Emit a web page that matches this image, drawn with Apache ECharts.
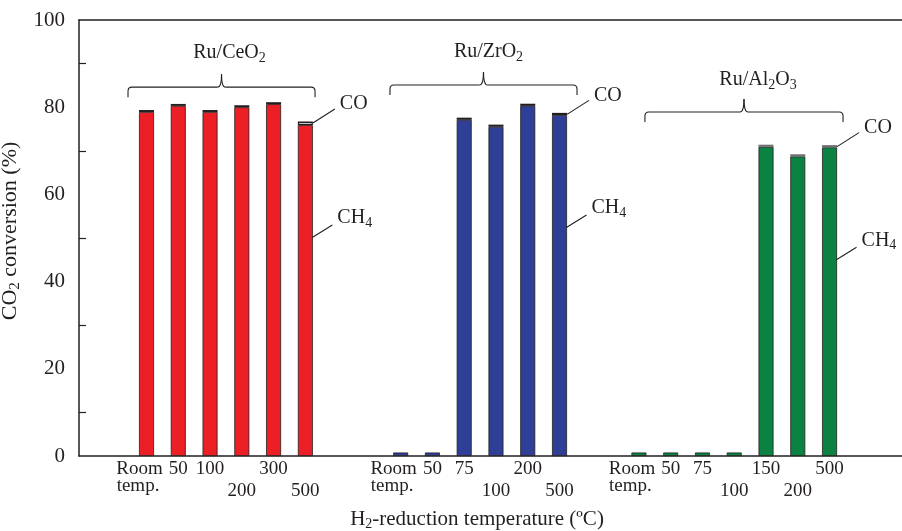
<!DOCTYPE html>
<html>
<head>
<meta charset="utf-8">
<script src="https://cdn.jsdelivr.net/npm/echarts@6/dist/echarts.min.js"></script>
<style>
html,body{margin:0;padding:0;background:#fff;}
#chart{width:902px;height:531px;}
</style>
</head>
<body>
<div id="chart"></div>
<script>
// values (CO2 conversion, %)
var ceo2Temps = ['Room temp.', '50', '100', '200', '300', '500'];
var ceo2CH4 = [78.9, 80.3, 78.9, 80.0, 80.7, 75.9];
var ceo2CO = [0.45, 0.45, 0.45, 0.45, 0.45, 0.8];

var zro2Temps = ['Room temp.', '50', '75', '100', '200', '500'];
var zro2CH4 = [0.8, 0.8, 77.1, 75.5, 80.3, 78.2];
var zro2CO = [0, 0, 0.5, 0.5, 0.5, 0.5];

var al2o3Temps = ['Room temp.', '50', '75', '100', '150', '200', '500'];
var al2o3CH4 = [0.8, 0.8, 0.8, 0.8, 70.9, 68.7, 70.8];
var al2o3CO = [0, 0, 0, 0, 0.5, 0.5, 0.5];

var FONT = 'Liberation Serif';
var INK = '#231f20';
var SLOTS = 104, STEP = 4;   // fine category slots, one bar every STEP slots
var lowRow = [3, 5];         // labels pushed to the second row

var groups = [
  {label: '{m|Ru/CeO}{s|2}', temps: ceo2Temps, ch4: ceo2CH4, co: ceo2CO, start: 8,
   fill: '#ec1f27', coEdge: INK, brace: {l: -18.5, r: 9.7, level: 84.6, dx: 8, dy: -34}},
  {label: '{m|Ru/ZrO}{s|2}', temps: zro2Temps, ch4: zro2CH4, co: zro2CO, start: 40,
   fill: '#2f3e97', coEdge: INK, brace: {l: -10.7, r: 17.5, level: 85.1, dx: 5, dy: -33}},
  {label: '{m|Ru/Al}{s|2}{m|O}{s|3}', temps: al2o3Temps, ch4: al2o3CH4, co: al2o3CO, start: 70,
   fill: '#0b8242', coEdge: '#6d6e71', brace: {l: 6, r: 13.5, level: 78.9, dx: 14, dy: -32}}
];

var cats = [], rows = [], ch4Data = [], coData = [];
for (var i = 0; i < SLOTS; i++) {
  cats.push(''); rows.push(0); ch4Data.push(null); coData.push(null);
}
groups.forEach(function (g) {
  g.temps.forEach(function (t, j) {
    var k = g.start + j * STEP;
    cats[k] = t;
    rows[k] = lowRow.indexOf(j) >= 0 ? 1 : 0;
    ch4Data[k] = {value: g.ch4[j], itemStyle: {color: g.fill}};
    if (g.co[j]) coData[k] = {value: g.co[j], itemStyle: {color: '#fff', borderColor: g.coEdge}};
  });
});

var txt = {fontFamily: FONT, color: INK};
function st(o) { var r = {}; for (var k in txt) r[k] = txt[k]; for (k in o) r[k] = o[k]; return r; }

var chart = echarts.init(document.getElementById('chart'));
chart.setOption({
  animation: false,
  backgroundColor: '#fff',
  grid: {left: 79, right: -3, top: 20, bottom: 75, containLabel: false, outerBoundsMode: 'none'},
  xAxis: [{
    type: 'category',
    data: cats,
    position: 'bottom',
    axisLine: {lineStyle: {color: INK, width: 1.5}},
    axisTick: {show: false},
    axisLabel: {
      interval: 0, margin: 3,
      formatter: function (v, i) {
        if (!v) return '';
        if (v === 'Room temp.') return '{r1|Room}\n{r2|temp.}';
        return rows[i] ? '{lo|' + v + '}' : '{n|' + v + '}';
      },
      rich: {
        n: st({fontSize: 19, lineHeight: 20}),
        lo: st({fontSize: 19, lineHeight: 20, padding: [44, 0, 0, 0]}),
        r1: st({fontSize: 19, lineHeight: 20, padding: [0, 14, 0, 0]}),
        r2: st({fontSize: 19, lineHeight: 14, padding: [0, 17, 0, 0]})
      }
    },
    name: '{a|H}{s|2}{a|-reduction temperature (ºC)}',
    nameLocation: 'middle',
    nameGap: 51,
    nameTextStyle: {
      padding: [0, 30, 0, 0],
      rich: {
        a: st({fontSize: 21, lineHeight: 24}),
        s: st({fontSize: 14, lineHeight: 18, verticalAlign: 'bottom'})
      }
    }
  }, {
    type: 'category',
    data: cats,
    position: 'top',
    axisLine: {lineStyle: {color: INK, width: 1.5}},
    axisTick: {show: false},
    axisLabel: {show: false}
  }],
  yAxis: {
    type: 'value',
    min: 0, max: 100, interval: 20,
    axisLine: {show: true, lineStyle: {color: INK, width: 1.5}},
    axisTick: {inside: true, length: 8, lineStyle: {color: INK, width: 1.2}},
    minorTick: {show: true, splitNumber: 2, length: 7, lineStyle: {color: INK, width: 1.2}},
    splitLine: {show: false},
    axisLabel: {margin: 14, fontFamily: FONT, fontSize: 21, color: INK},
    name: '{a|CO}{s|2}{a| conversion (%)}',
    nameLocation: 'middle',
    nameGap: 47,
    nameTextStyle: {
      padding: [0, 0, 0, 14],
      rich: {
        a: st({fontSize: 22, lineHeight: 24}),
        s: st({fontSize: 15, lineHeight: 18, verticalAlign: 'bottom'})
      }
    }
  },
  series: [{
    type: 'bar', name: 'CH4', stack: 'total', barWidth: 15,
    itemStyle: {borderColor: INK, borderWidth: 0.8},
    data: ch4Data
  }, {
    type: 'bar', name: 'CO', stack: 'total', barWidth: 15,
    itemStyle: {borderColor: INK, borderWidth: 1.3},
    data: coData
  }]
});

// braces, group names and CO / CH4 pointers
function px(k, v) { return chart.convertToPixel({gridIndex: 0}, [k, v]); }
var subRich = {
  m: {fontFamily: FONT, fontSize: 20, lineHeight: 24},
  s: {fontFamily: FONT, fontSize: 14, lineHeight: 18, verticalAlign: 'bottom'}
};
var lineStyle = {stroke: INK, lineWidth: 1.1, fill: null};
var els = [];
function seg(x1, y1, x2, y2) { els.push({type: 'line', shape: {x1: x1, y1: y1, x2: x2, y2: y2}, style: lineStyle, silent: true}); }
function curve(x1, y1, cx, cy, x2, y2) { els.push({type: 'bezierCurve', shape: {x1: x1, y1: y1, cpx1: cx, cpy1: cy, x2: x2, y2: y2}, style: lineStyle, silent: true}); }
function label(x, y, text, align) {
  els.push({type: 'text', x: x, y: y, silent: true,
    style: {text: text, rich: subRich, fill: INK, align: align, verticalAlign: 'middle'}});
}

groups.forEach(function (g) {
  var n = g.temps.length;
  var first = px(g.start, 0), lastK = g.start + (n - 1) * STEP;
  var last = px(lastK, 0);
  var b = g.brace;
  var y = px(g.start, b.level)[1];
  var x0 = first[0] + b.l, x1 = last[0] + b.r, xm = (x0 + x1) / 2;
  var d = 10, h = 13, r = 4;
  seg(x0, y + d, x0, y + r);
  curve(x0, y + r, x0, y, x0 + r, y);
  seg(x0 + r, y, xm - r, y);
  curve(xm - r, y, xm, y, xm, y - h);
  curve(xm, y - h, xm, y, xm + r, y);
  seg(xm + r, y, x1 - r, y);
  curve(x1 - r, y, x1, y, x1, y + r);
  seg(x1, y + r, x1, y + d);
  label(xm + b.dx, y + b.dy, g.label, 'center');

  // pointers on the last bar of the group
  var top = px(lastK, g.ch4[n - 1] + g.co[n - 1]);
  var cTop = px(lastK, g.ch4[n - 1]);
  var sx = top[0] + 7.5, sy = top[1] + 1.5;
  seg(sx, sy, sx + 22, sy - 14);
  label(sx + 27, sy - 19, '{m|CO}', 'left');
  var hx = cTop[0] - 2, hy = cTop[1] + 118;
  seg(hx, hy, hx + 29, hy - 18);
  label(hx + 34, hy - 25, '{m|CH}{s|4}', 'left');
});
chart.setOption({graphic: {elements: els}});
</script>
</body>
</html>
